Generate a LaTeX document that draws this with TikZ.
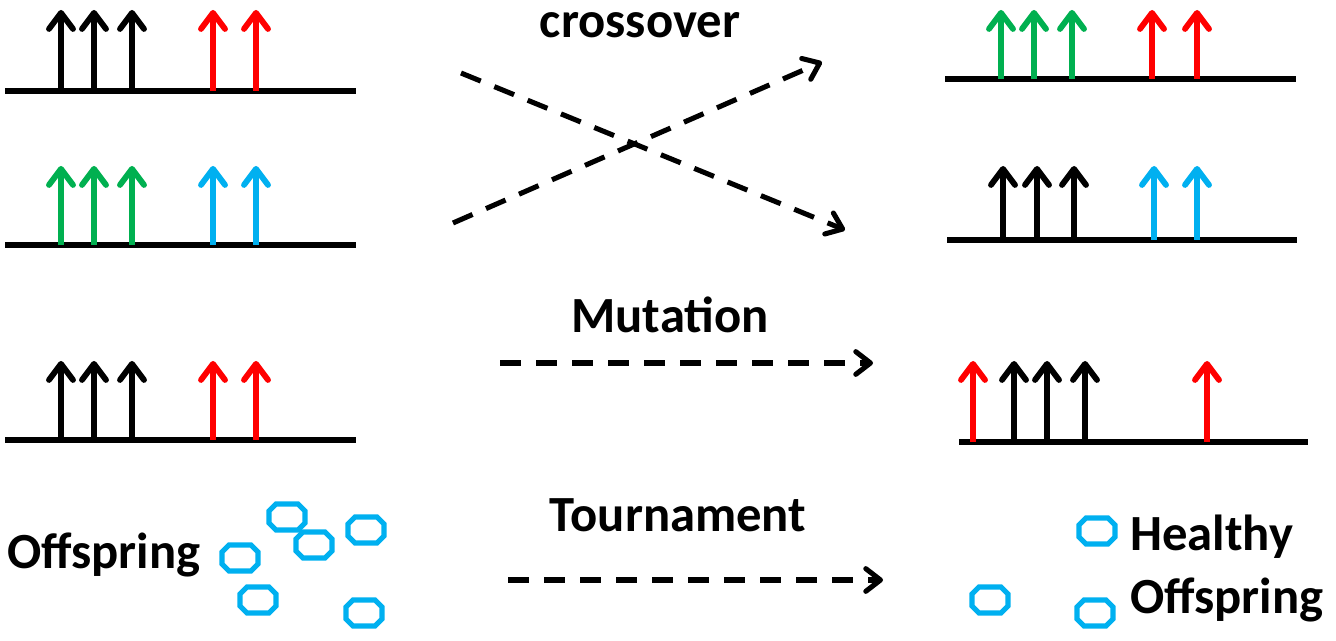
\documentclass[tikz,border=0pt]{standalone}
\usepackage{fontspec}
\setmainfont{Carlito}
\usetikzlibrary{arrows.meta}
\definecolor{gA}{RGB}{0,176,80}
\definecolor{bA}{RGB}{0,176,240}
\definecolor{rA}{RGB}{255,0,0}
\tikzset{
  base/.style={line width=3.8pt},
  gene/.style={line width=4.4pt,-{Straight Barb[length=12pt,width=18pt,line width=4.4pt,line cap=round,line join=round]}},
  flow/.style={line width=3.8pt,dash pattern=on 16pt off 11pt,-{Straight Barb[length=11pt,width=17pt,line width=3.8pt,line cap=round,line join=round]}},
  lbl/.style={font=\bfseries\fontsize{38}{44}\selectfont,inner sep=0pt},
  octline/.style={draw=bA,line width=3.8pt,line join=miter},
  oct/.pic={\draw[octline] (-18,-6)--(-11,-13)--(11,-13)--(18,-6)--(18,6)--(11,13)--(-11,13)--(-18,6)--cycle;}
}
\begin{document}
\begin{tikzpicture}[x=0.75pt,y=-0.75pt]
\useasboundingbox (0,0) rectangle (1336,641);
% left chromosomes
\draw[base] (5,91) -- (356,91);
\foreach \x in {61,94,132} \draw[gene,black] (\x,91) -- (\x,10);
\foreach \x in {213,256} \draw[gene,rA] (\x,91) -- (\x,10);
\draw[base] (5,245) -- (356,245);
\foreach \x in {61,94,132} \draw[gene,gA] (\x,245) -- (\x,166);
\foreach \x in {213,256} \draw[gene,bA] (\x,245) -- (\x,166);
\draw[base] (5,440) -- (356,440);
\foreach \x in {61,94,132} \draw[gene,black] (\x,440) -- (\x,361);
\foreach \x in {213,256} \draw[gene,rA] (\x,440) -- (\x,361);
% right chromosomes
\draw[base] (945,79) -- (1296,79);
\foreach \x in {1001,1034,1072} \draw[gene,gA] (\x,79) -- (\x,10);
\foreach \x in {1152,1197} \draw[gene,rA] (\x,79) -- (\x,10);
\draw[base] (947,240) -- (1297,240);
\foreach \x in {1003,1037,1074} \draw[gene,black] (\x,240) -- (\x,166);
\foreach \x in {1154,1197} \draw[gene,bA] (\x,240) -- (\x,166);
\draw[base] (959,442) -- (1308,442);
\foreach \x in {1014,1047,1085} \draw[gene,black] (\x,442) -- (\x,361);
\foreach \x in {973,1207} \draw[gene,rA] (\x,442) -- (\x,361);
% connectors
\coordinate (c1s) at (461,73);
\coordinate (c1e) at (845,230);
\coordinate (c2s) at (453,223);
\coordinate (c2e) at (822,62);
\coordinate (ms) at (500,363);
\coordinate (me) at (873,363);
\coordinate (ts) at (508,580);
\coordinate (te) at (883,580);
\draw[flow] (c1s) -- (c1e);
\draw[flow] (c2s) -- (c2e);
\draw[flow] (ms) -- (me);
\draw[flow] (ts) -- (te);
% labels
\node[lbl] (lc) at (640,25) {crossover};
\node[lbl] (lm) at (670,315) {Mutation};
\node[lbl] (lt) at (678,515) {Tournament};
\node[lbl,anchor=west] (lo) at (7,555) {Offspring};
\node[lbl,anchor=west] (lh) at (1130,537) {Healthy};
\node[lbl,anchor=west] (lho) at (1130,600) {Offspring};
% offspring octagons
\foreach \p in {(287,517),(314,545),(366,530),(240,558),(258,600),(364,613),(1097,531),(990,600),(1095,613)}
  \pic at \p {oct};
\end{tikzpicture}
\end{document}
